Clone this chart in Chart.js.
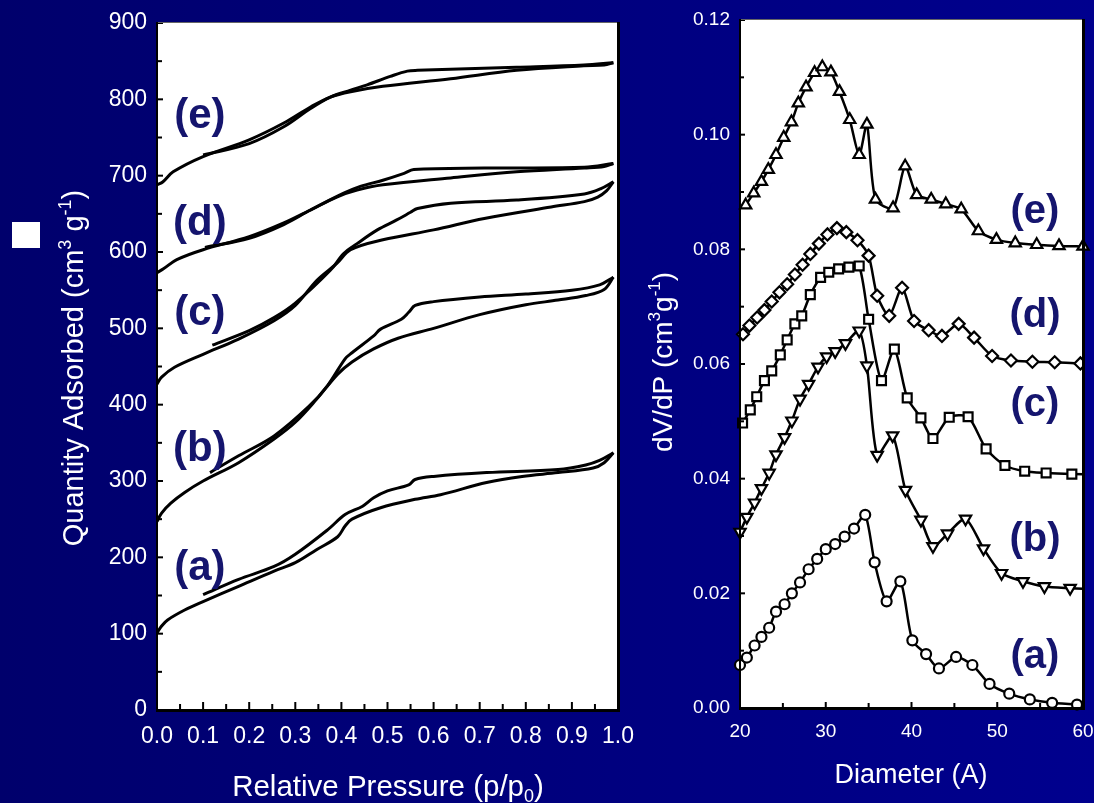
<!DOCTYPE html>
<html>
<head>
<meta charset="utf-8">
<script src="https://cdn.jsdelivr.net/npm/chart.js@4/dist/chart.umd.min.js"></script>
<style>
  html, body { margin: 0; padding: 0; width: 1094px; height: 803px; overflow: hidden; }
  body { background: linear-gradient(to right, #00006c, #00008e); }
  #wrap { position: relative; width: 1094px; height: 803px; }
  canvas { position: absolute; top: 0; }
  #iso { left: 0; }
  #psd { left: 640px; }
  .box { position: absolute; left: 12px; top: 222px; width: 28px; height: 26px; background: #fff; }
</style>
</head>
<body>
<div id="wrap">
  <div class="box"></div>
  <canvas id="iso" width="640" height="803"></canvas>
  <canvas id="psd" width="454" height="803"></canvas>
</div>
<script>
// ---------- N2 sorption isotherms: relative pressure (p/p0) vs quantity adsorbed ----------
const aAdsP = [0.0, 0.01, 0.023, 0.06, 0.1, 0.177, 0.254, 0.3, 0.346, 0.392, 0.408, 0.423, 0.485, 0.56, 0.615, 0.715, 0.792, 0.87, 0.946, 0.97, 0.99];
const aAdsV = [101, 110, 118, 131, 142, 162, 182, 193, 210, 227, 241, 250, 265, 276, 282, 298, 306, 311, 317, 324, 337];
const aDesP = [0.99, 0.96, 0.93, 0.87, 0.715, 0.6, 0.56, 0.546, 0.5, 0.47, 0.446, 0.408, 0.37, 0.3, 0.254, 0.177, 0.1];
const aDesV = [337, 327, 321, 315, 311, 306, 302, 295, 287, 278, 267, 256, 236, 204, 188, 171, 151];

const bAdsP = [0.0, 0.01, 0.03, 0.06, 0.1, 0.177, 0.254, 0.3, 0.346, 0.392, 0.423, 0.47, 0.523, 0.6, 0.7, 0.8, 0.87, 0.93, 0.97, 0.99];
const bAdsV = [247, 258, 271, 285, 300, 324, 355, 377, 407, 440, 456, 473, 487, 500, 518, 531, 537, 543, 551, 567];
const bDesP = [0.99, 0.96, 0.9, 0.8, 0.7, 0.6, 0.56, 0.546, 0.53, 0.485, 0.47, 0.423, 0.408, 0.37, 0.33, 0.254, 0.177, 0.115];
const bDesV = [567, 557, 550, 545, 541, 535, 530, 521, 512, 499, 490, 468, 460, 425, 398, 359, 333, 311];

const cAdsP = [0.0, 0.01, 0.038, 0.1, 0.177, 0.254, 0.3, 0.347, 0.39, 0.42, 0.49, 0.6, 0.71, 0.855, 0.927, 0.956, 0.975, 0.99];
const cAdsV = [427, 436, 449, 466, 486, 510, 530, 563, 585, 603, 616, 629, 644, 659, 666, 672, 680, 692];
const cDesP = [0.99, 0.963, 0.927, 0.78, 0.637, 0.565, 0.55, 0.52, 0.478, 0.434, 0.405, 0.376, 0.3, 0.254, 0.2, 0.12];
const cDesV = [692, 683, 676, 668, 664, 657, 652, 642, 629, 611, 598, 576, 533, 514, 497, 478];

const dAdsP = [0.0, 0.014, 0.043, 0.1, 0.2, 0.275, 0.333, 0.39, 0.434, 0.49, 0.637, 0.78, 0.927, 0.97, 0.99];
const dAdsV = [573, 578, 590, 603, 620, 638, 655, 672, 681, 688, 697, 705, 710, 712, 716];
const dDesP = [0.99, 0.927, 0.71, 0.557, 0.536, 0.49, 0.441, 0.405, 0.333, 0.275, 0.2, 0.104];
const dDesV = [716, 711, 710, 708, 703, 694, 686, 677, 655, 636, 618, 606];

const eAdsP = [0.0, 0.013, 0.035, 0.1, 0.2, 0.275, 0.333, 0.376, 0.42, 0.49, 0.637, 0.78, 0.926, 0.97, 0.99];
const eAdsV = [688, 692, 705, 725, 747, 769, 790, 803, 810, 817, 827, 838, 844, 845, 848];
const eDesP = [0.99, 0.926, 0.78, 0.565, 0.543, 0.506, 0.456, 0.42, 0.376, 0.333, 0.275, 0.2, 0.1];
const eDesV = [848, 845, 842, 838, 837, 830, 819, 812, 803, 788, 764, 742, 727];

const isoXTicks = [0, 1, 0.1];      // min, max, step
const isoYTicks = [0, 900, 100];

// ---------- BJH pore size distributions: pore diameter (A) vs dV/dP ----------
const aD   = [20.0, 20.8, 21.7, 22.5, 23.4, 24.2, 25.2, 26.05, 27.0, 28.0, 29.0, 30.0, 31.1, 32.2, 33.3, 34.6, 35.7, 37.1, 38.7, 40.1, 41.7, 43.2, 45.2, 47.1, 49.1, 51.4, 53.8, 56.4, 59.3, 61.5];
const aVal = [0.0075, 0.0088, 0.0109, 0.0124, 0.0140, 0.0168, 0.0181, 0.0200, 0.0219, 0.0242, 0.0260, 0.0277, 0.0286, 0.0299, 0.0313, 0.0337, 0.0254, 0.0186, 0.0221, 0.0118, 0.0094, 0.0069, 0.0089, 0.0075, 0.0042, 0.0025, 0.0015, 0.0009, 0.0006, 0.0005];

const bD   = [20.0, 20.8, 21.7, 22.5, 23.4, 24.2, 25.2, 26.05, 27.0, 28.0, 29.1, 30.1, 31.1, 32.3, 33.9, 34.8, 36.0, 37.8, 39.3, 41.1, 42.5, 44.2, 46.3, 48.4, 50.5, 53.0, 55.5, 58.5, 61.5];
const bVal = [0.0307, 0.0333, 0.0358, 0.0383, 0.0410, 0.0442, 0.0472, 0.0501, 0.0539, 0.0565, 0.0595, 0.0613, 0.0622, 0.0636, 0.0658, 0.0597, 0.0441, 0.0475, 0.0380, 0.0328, 0.0282, 0.0304, 0.0330, 0.0278, 0.0235, 0.0221, 0.0212, 0.0209, 0.0207];

const cD   = [20.3, 21.2, 21.95, 22.85, 23.7, 24.7, 25.5, 26.4, 27.2, 28.2, 29.4, 30.35, 31.5, 32.7, 33.9, 35.0, 36.5, 38.0, 39.5, 41.1, 42.5, 44.4, 46.6, 48.7, 50.9, 53.2, 55.7, 58.7, 61.5];
const cVal = [0.0497, 0.0520, 0.0543, 0.0571, 0.0588, 0.0616, 0.0642, 0.0670, 0.0684, 0.0721, 0.0751, 0.0760, 0.0766, 0.0769, 0.0771, 0.0678, 0.0571, 0.0626, 0.0541, 0.0506, 0.0470, 0.0507, 0.0508, 0.0452, 0.0423, 0.0413, 0.0410, 0.0408, 0.0407];

const dD   = [20.35, 21.1, 22.0, 22.85, 23.7, 24.6, 25.5, 26.4, 27.3, 28.2, 29.2, 30.2, 31.3, 32.4, 33.7, 35.0, 36.0, 37.4, 38.9, 40.3, 42.0, 43.55, 45.5, 47.3, 49.4, 51.6, 54.1, 56.7, 59.7, 61.5];
const dVal = [0.0652, 0.0667, 0.0681, 0.0694, 0.0709, 0.0725, 0.0739, 0.0756, 0.0773, 0.0792, 0.0810, 0.0826, 0.0837, 0.0830, 0.0816, 0.0789, 0.0719, 0.0684, 0.0733, 0.0675, 0.0659, 0.0649, 0.0670, 0.0646, 0.0614, 0.0606, 0.0604, 0.0603, 0.0601, 0.0601];

const eD   = [20.66, 21.6, 22.5, 23.3, 24.2, 25.1, 26.0, 26.8, 27.7, 28.7, 29.6, 30.6, 31.6, 32.8, 33.9, 34.8, 35.8, 37.85, 39.26, 40.6, 42.3, 44.0, 45.8, 47.8, 49.9, 52.1, 54.6, 57.2, 60.0];
const eVal = [0.0877, 0.0898, 0.0918, 0.0939, 0.0965, 0.0995, 0.1022, 0.1055, 0.1083, 0.1108, 0.1118, 0.1109, 0.1075, 0.1026, 0.0965, 0.1018, 0.0887, 0.0872, 0.0945, 0.0895, 0.0887, 0.0879, 0.0870, 0.0832, 0.0817, 0.0811, 0.0808, 0.0806, 0.0805];

const psdXTicks = [20, 60, 10];
const psdYTicks = [0, 0.12, 0.02];

const sampleNames = ['(a)', '(b)', '(c)', '(d)', '(e)'];

// ---------- helpers ----------
const FONT = "'Liberation Sans', Arial, Helvetica, sans-serif";
const toXY = (xs, ys) => xs.map((x, i) => ({ x, y: ys[i] }));

function branch(p, v) {
  return {
    data: toXY(p, v), showLine: true, fill: false,
    borderColor: '#000', borderWidth: 3, tension: 0.35,
    pointRadius: 0, pointHoverRadius: 0
  };
}

function poreCurve(d, v, style, rotation, radius, clipRight) {
  return {
    data: toXY(d, v), showLine: true, fill: false,
    borderColor: '#000', borderWidth: 2.5, tension: 0.25,
    pointStyle: style, pointRotation: rotation, pointRadius: radius, pointHoverRadius: radius,
    pointBorderWidth: 2.2, pointBorderColor: '#000', pointBackgroundColor: '#fff',
    clip: { left: 10, top: 10, right: clipRight, bottom: 10 }
  };
}

// text with super/subscript pieces, centred on (x, baseline y), optionally rotated
function drawRich(ctx, parts, x, y, size, angle) {
  const normal = size + 'px ' + FONT;
  const small = Math.round(size * 0.62) + 'px ' + FONT;
  ctx.save();
  ctx.translate(x, y);
  ctx.rotate(angle);
  ctx.textAlign = 'left';
  ctx.textBaseline = 'alphabetic';
  ctx.fillStyle = '#fff';
  let total = 0;
  const widths = parts.map(pt => {
    ctx.font = (pt.sup || pt.sub) ? small : normal;
    const w = ctx.measureText(pt.t).width;
    total += w;
    return w;
  });
  let cx = -total / 2;
  parts.forEach((pt, i) => {
    ctx.font = (pt.sup || pt.sub) ? small : normal;
    const dy = pt.sup ? -size * 0.42 : (pt.sub ? size * 0.2 : 0);
    ctx.fillText(pt.t, cx, dy);
    cx += widths[i];
  });
  ctx.restore();
}

// white plot panel, inward ticks, frame, and annotation callback
function makeFrame(cfg) {
  return {
    id: 'frame',
    beforeDraw(chart) {
      const { ctx, chartArea: a } = chart;
      ctx.save();
      ctx.fillStyle = '#fff';
      ctx.fillRect(a.left, a.top, a.width, a.height);
      ctx.restore();
    },
    afterDatasetsDraw(chart) {
      const { ctx, chartArea: a, scales: { x, y } } = chart;
      ctx.save();
      ctx.fillStyle = '#000';
      const nx = Math.round((x.max - x.min) / cfg.xMinor);
      for (let i = 0; i <= nx; i++) {
        const px = x.getPixelForValue(x.min + i * cfg.xMinor);
        const len = i % 2 === 0 ? cfg.xLen[0] : cfg.xLen[1];
        ctx.fillRect(px - 1, a.bottom - len, 2, len);
      }
      const ny = Math.round((y.max - y.min) / cfg.yMinor);
      for (let i = 0; i <= ny; i++) {
        const py = y.getPixelForValue(y.min + i * cfg.yMinor);
        const len = i % 2 === 0 ? cfg.yLen[0] : cfg.yLen[1];
        ctx.fillRect(a.left, py - 1, len, 2);
      }
      // frame: thin top edge, heavier left / bottom / right edges
      ctx.fillStyle = '#666';
      ctx.fillRect(a.left, a.top - 1, a.width, 1);
      ctx.fillStyle = '#000';
      ctx.fillRect(a.left - 1, a.top - 1, 2, a.height + 2);
      ctx.fillRect(a.left - 1, a.bottom - 1, a.width + 3, 3);
      ctx.fillRect(a.right - 1, a.top - 1, 3, a.height + 3);
      ctx.restore();
    },
    afterDraw(chart) { cfg.annotate(chart); }
  };
}

function axisOpts(range, fontSize, padding, fmt, fit) {
  return {
    type: 'linear', min: range[0], max: range[1],
    grid: { display: false, drawTicks: false },
    border: { display: false },
    ticks: {
      stepSize: range[2], color: '#fff', padding: padding,
      font: { family: FONT, size: fontSize },
      maxRotation: 0, autoSkip: false,
      callback: v => v.toFixed(fmt)
    },
    afterFit: fit
  };
}

// fixed axis band sizes so the plot panels land where intended
const fixHeight = h => s => { s.height = h; s.paddingLeft = 0; s.paddingRight = 0; };
const fixWidth = w => s => { s.width = w; s.paddingTop = 0; s.paddingBottom = 0; };

function sampleLabels(chart, spots, size) {
  const { ctx, scales: { x, y } } = chart;
  ctx.save();
  ctx.font = 'bold ' + size + 'px ' + FONT;
  ctx.fillStyle = '#15156e';
  ctx.textAlign = 'center';
  ctx.textBaseline = 'middle';
  spots.forEach((s, i) => ctx.fillText(sampleNames[i], x.getPixelForValue(s[0]), y.getPixelForValue(s[1])));
  ctx.restore();
}

const common = {
  responsive: false, animation: false, devicePixelRatio: 1,
  plugins: { legend: { display: false }, tooltip: { enabled: false } },
  events: []
};

// ---------- isotherm chart ----------
new Chart(document.getElementById('iso'), {
  type: 'scatter',
  data: {
    datasets: [
      branch(aAdsP, aAdsV), branch(aDesP, aDesV),
      branch(bAdsP, bAdsV), branch(bDesP, bDesV),
      branch(cAdsP, cAdsV), branch(cDesP, cDesV),
      branch(dAdsP, dAdsV), branch(dDesP, dDesV),
      branch(eAdsP, eAdsV), branch(eDesP, eDesV)
    ]
  },
  options: Object.assign({}, common, {
    layout: { padding: { left: 0, top: 23, right: 22, bottom: 0 } },
    scales: {
      x: axisOpts(isoXTicks, 23, 13, 1, fixHeight(93)),
      y: axisOpts(isoYTicks, 23, 10, 0, fixWidth(157))
    }
  }),
  plugins: [makeFrame({
    xMinor: 0.05, yMinor: 50, xLen: [8, 6], yLen: [6, 5],
    annotate(chart) {
      sampleLabels(chart, [[0.093, 185], [0.093, 342], [0.093, 520], [0.093, 638], [0.093, 777]], 42);
      const ctx = chart.ctx;
      drawRich(ctx, [{ t: 'Quantity Adsorbed (cm' }, { t: '3', sup: true }, { t: ' g' }, { t: '-1', sup: true }, { t: ')' }],
        83, 368, 29, -Math.PI / 2);
      drawRich(ctx, [{ t: 'Relative Pressure (p/p' }, { t: '0', sub: true }, { t: ')' }],
        388, 796, 29.5, 0);
    }
  })]
});

// ---------- pore size distribution chart ----------
new Chart(document.getElementById('psd'), {
  type: 'scatter',
  data: {
    datasets: [
      poreCurve(aD, aVal, 'circle', 0, 5, 0),
      poreCurve(bD, bVal, 'triangle', 180, 6.5, 0),
      poreCurve(cD, cVal, 'rect', 0, 6.3, 0),
      poreCurve(dD, dVal, 'rectRot', 0, 6, 0),
      poreCurve(eD, eVal, 'triangle', 0, 6.5, 10)
    ]
  },
  options: Object.assign({}, common, {
    layout: { padding: { left: 0, top: 20, right: 11, bottom: 0 } },
    scales: {
      x: axisOpts(psdXTicks, 19, 12, 0, fixHeight(95)),
      y: axisOpts(psdYTicks, 19, 10, 2, fixWidth(100))
    }
  }),
  plugins: [makeFrame({
    xMinor: 5, yMinor: 0.01, xLen: [6, 5], yLen: [5, 4],
    annotate(chart) {
      sampleLabels(chart, [[54.4, 0.0089], [54.4, 0.0293], [54.4, 0.0529], [54.4, 0.0683], [54.4, 0.0866]], 40);
      const ctx = chart.ctx;
      drawRich(ctx, [{ t: 'dV/dP (cm' }, { t: '3', sup: true }, { t: 'g' }, { t: '-1', sup: true }, { t: ')' }],
        32, 362, 28, -Math.PI / 2);
      drawRich(ctx, [{ t: 'Diameter (A)' }], 271, 783, 27, 0);
    }
  })]
});
</script>
</body>
</html>
